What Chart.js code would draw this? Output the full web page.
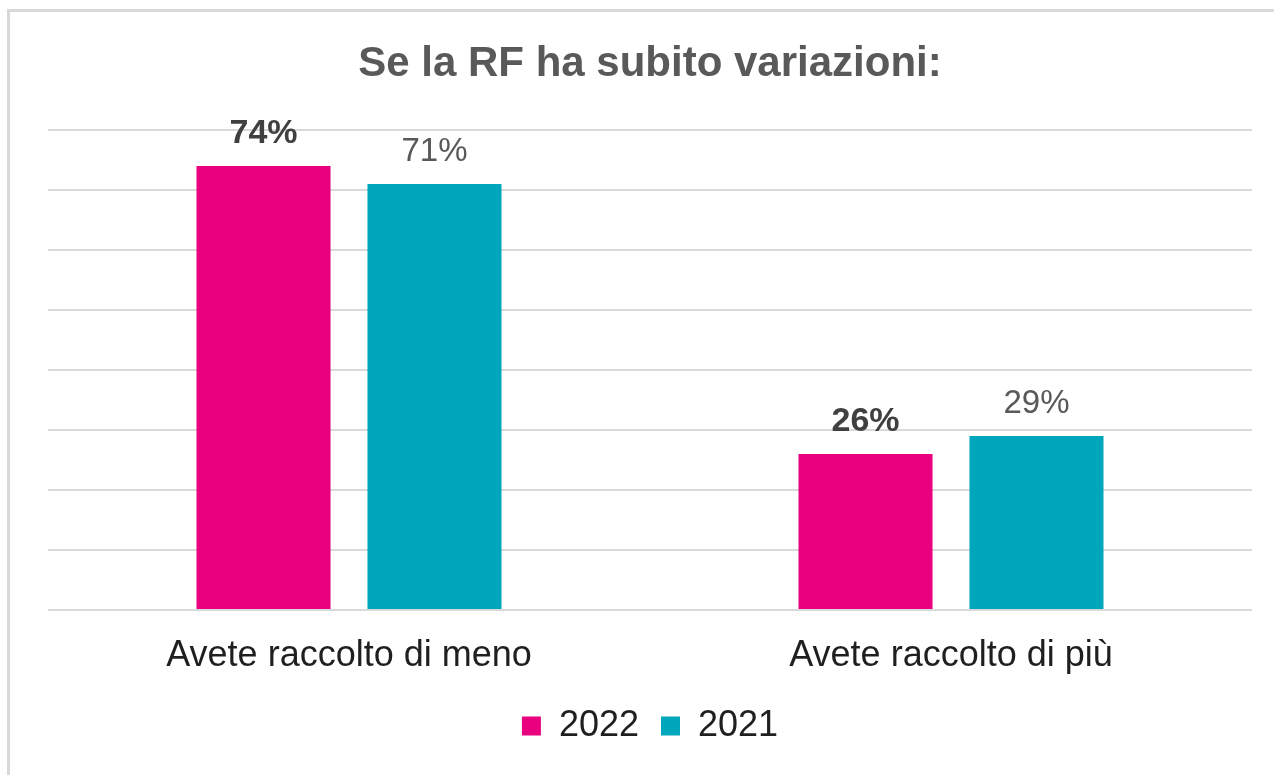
<!DOCTYPE html>
<html>
<head>
<meta charset="utf-8">
<script src="https://cdn.jsdelivr.net/npm/chart.js@4.4.1/dist/chart.umd.min.js"></script>
<style>
    html, body { margin: 0; padding: 0; background: #fff; }
    #frame {
        position: absolute; left: 7px; top: 9px; width: 1300px; height: 800px;
        border-left: 3px solid #d9d9d9; border-top: 3px solid #d9d9d9;
    }
    #wrap { position: absolute; left: 0; top: 0; width: 1274px; height: 775px; }
</style>
</head>
<body>
<div id="frame"></div>
<div id="wrap"><canvas id="chart" width="1274" height="775"></canvas></div>
<script>
// Chart data
const categories = ['Avete raccolto di meno', 'Avete raccolto di più'];
const seriesNames = ['2022', '2021'];
const values2022 = [74, 26];
const values2021 = [71, 29];
const seriesColors = ['#e8007f', '#00a7bc'];

const fontFamily = '"Liberation Sans", Arial, sans-serif';

// Simple value labels above the bars
const barLabels = {
    id: 'barLabels',
    afterDatasetsDraw(chart) {
        const ctx = chart.ctx;
        chart.data.datasets.forEach((ds, i) => {
            const meta = chart.getDatasetMeta(i);
            meta.data.forEach((bar, j) => {
                ctx.save();
                ctx.font = (i === 0 ? 'bold 34px ' : '33px ') + fontFamily;
                ctx.fillStyle = i === 0 ? '#404040' : '#595959';
                ctx.textAlign = 'center';
                ctx.textBaseline = 'alphabetic';
                ctx.fillText(ds.data[j] + '%', bar.x, bar.y - 23);
                ctx.restore();
            });
        });
    }
};

new Chart(document.getElementById('chart'), {
    type: 'bar',
    data: {
        labels: categories,
        datasets: [{
            label: seriesNames[0],
            data: values2022,
            backgroundColor: seriesColors[0]
        }, {
            label: seriesNames[1],
            data: values2021,
            backgroundColor: seriesColors[1]
        }]
    },
    options: {
        responsive: false,
        animation: false,
        categoryPercentage: 0.568,
        barPercentage: 0.784,
        layout: {
            padding: { left: 48, right: 22, top: 0, bottom: 21 }
        },
        scales: {
            x: {
                grid: { display: false },
                border: { display: false },
                ticks: {
                    color: '#1f1f1f',
                    padding: 16,
                    font: { family: fontFamily, size: 36 }
                },
                afterFit: function(scale) {
                    scale.height = 76;
                }
            },
            y: {
                min: 0,
                max: 80,
                ticks: { display: false, stepSize: 10 },
                border: { display: false },
                grid: {
                    color: '#d9d9d9',
                    lineWidth: 2,
                    drawTicks: false
                },
                afterFit: function(scale) {
                    scale.width = 0;
                }
            }
        },
        plugins: {
            title: {
                display: true,
                text: 'Se la RF ha subito variazioni:',
                color: '#595959',
                font: { family: fontFamily, size: 42, weight: 'bold' },
                padding: { top: 39, bottom: 40.6 }
            },
            legend: {
                position: 'bottom',
                labels: {
                    color: '#1f1f1f',
                    boxWidth: 19,
                    boxHeight: 19,
                    padding: 22,
                    font: { family: fontFamily, size: 36 }
                }
            },
            tooltip: { enabled: false }
        }
    },
    plugins: [barLabels]
});
</script>
</body>
</html>
